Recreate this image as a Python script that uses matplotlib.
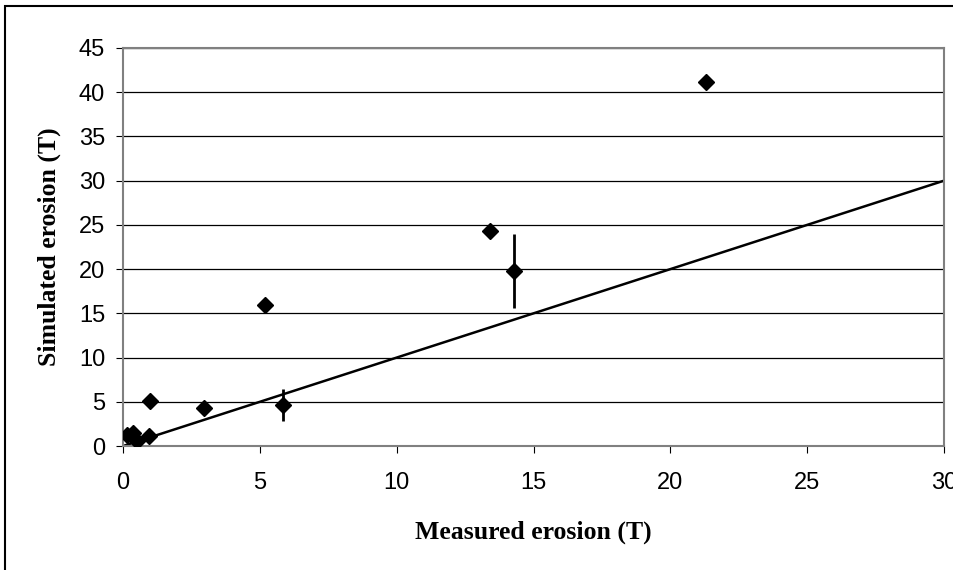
import matplotlib.pyplot as plt
from matplotlib.patches import Rectangle

# measured vs simulated erosion (T)
measured = [21.3, 13.4, 14.3, 5.2, 5.85, 2.95, 1.0, 0.95, 0.15, 0.35, 0.5]
simulated = [41.2, 24.3, 19.8, 16.0, 4.6, 4.35, 5.05, 1.1, 1.3, 1.45, 0.55]
sim_err = [0, 0, 4.2, 0, 1.8, 0, 0, 0, 0, 0, 0]
line_x = [0, 30]
line_y = [0, 30]

fig = plt.figure(figsize=(9.54, 5.70), dpi=100)
ax = fig.add_axes([0.129, 0.2175, 0.8605, 0.6983])

ax.plot(line_x, line_y, color='black', lw=1.8, zorder=2)
ax.errorbar(measured, simulated, yerr=sim_err, fmt='none', ecolor='black',
            elinewidth=2, capsize=0, zorder=3)
ax.plot(measured, simulated, 'D', color='black', markersize=8, zorder=4)

ax.set_xlim(0, 30)
ax.set_ylim(0, 45)
ax.set_xticks(range(0, 31, 5))
ax.set_yticks(range(0, 46, 5))
ax.yaxis.grid(True, color='black', lw=0.9)
ax.set_axisbelow(True)
for s in ax.spines.values():
    s.set_color('#808080')
    s.set_linewidth(1.5)
ax.tick_params(direction='out', length=5, color='black', labelsize=17)
ax.tick_params(axis='y', pad=8)
ax.tick_params(axis='x', pad=14)
for lab in ax.get_xticklabels() + ax.get_yticklabels():
    lab.set_family('Liberation Sans')

ax.set_xlabel('Measured erosion (T)', family='Liberation Serif', fontweight='bold',
              fontsize=18.5, va='center')
ax.set_ylabel('Simulated erosion (T)', family='Liberation Serif', fontweight='bold',
              fontsize=18.5, va='center')
ax.xaxis.set_label_coords(0.5, -0.216)
ax.yaxis.set_label_coords(-0.090, 0.5)

# frame round the whole chart
fig.add_artist(Rectangle((5 / 954, -0.02), 1.2, (570 - 6) / 570 + 0.02,
                         transform=fig.transFigure, fill=False, ec='black', lw=1.5))

fig.savefig('out.png', dpi=100)
